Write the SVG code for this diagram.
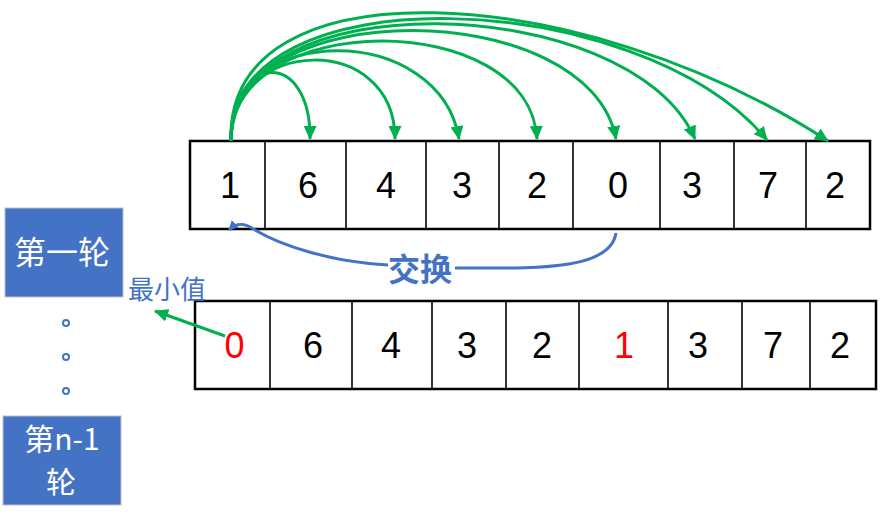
<svg xmlns="http://www.w3.org/2000/svg" width="882" height="516" viewBox="0 0 882 516">
<style>
.num{font-family:"Liberation Sans","DejaVu Sans",sans-serif;font-size:36px;text-anchor:middle;fill:#000}
.red{fill:#FF0000}
.box{fill:#fff;stroke:#000;stroke-width:2.5}
.div{stroke:#000;stroke-width:1.6}
.g{fill:none;stroke:#00B050;stroke-width:3}
.b{fill:none;stroke:#4472C4;stroke-width:3}
.cjk{font-family:"Noto Sans CJK SC","Liberation Sans",sans-serif;text-anchor:middle;dominant-baseline:central}
</style>
<defs>
<marker id="ga" markerWidth="14" markerHeight="13" viewBox="0 0 14 13" refX="13" refY="6.5" orient="auto" markerUnits="userSpaceOnUse"><path d="M0,0 L14,6.5 L0,13 z" fill="#00B050"/></marker>
<marker id="ba" markerWidth="10" markerHeight="10" viewBox="0 0 10 10" refX="9" refY="5" orient="auto" markerUnits="userSpaceOnUse"><path d="M0,0 L10,5 L0,10 z" fill="#4472C4"/></marker>
</defs>
<rect width="882" height="516" fill="#fff"/>

<g id="row1">
<rect class="box" x="190" y="141" width="680" height="88"/>
<line class="div" x1="265" y1="141" x2="265" y2="229"/>
<line class="div" x1="346" y1="141" x2="346" y2="229"/>
<line class="div" x1="426" y1="141" x2="426" y2="229"/>
<line class="div" x1="499" y1="141" x2="499" y2="229"/>
<line class="div" x1="573" y1="141" x2="573" y2="229"/>
<line class="div" x1="660" y1="141" x2="660" y2="229"/>
<line class="div" x1="734" y1="141" x2="734" y2="229"/>
<line class="div" x1="806" y1="141" x2="806" y2="229"/>
<text class="num" x="230" y="198">1</text>
<text class="num" x="308" y="198">6</text>
<text class="num" x="386" y="198">4</text>
<text class="num" x="462" y="198">3</text>
<text class="num" x="537" y="198">2</text>
<text class="num" x="618" y="198">0</text>
<text class="num" x="692" y="198">3</text>
<text class="num" x="768" y="198">7</text>
<text class="num" x="835" y="198">2</text>
</g>

<g id="row2">
<rect class="box" x="195" y="301" width="681" height="88"/>
<line class="div" x1="270" y1="301" x2="270" y2="389"/>
<line class="div" x1="352" y1="301" x2="352" y2="389"/>
<line class="div" x1="432" y1="301" x2="432" y2="389"/>
<line class="div" x1="506" y1="301" x2="506" y2="389"/>
<line class="div" x1="579" y1="301" x2="579" y2="389"/>
<line class="div" x1="668" y1="301" x2="668" y2="389"/>
<line class="div" x1="742" y1="301" x2="742" y2="389"/>
<line class="div" x1="810" y1="301" x2="810" y2="389"/>
<text class="num red" x="234.5" y="358">0</text>
<text class="num" x="313" y="358">6</text>
<text class="num" x="391" y="358">4</text>
<text class="num" x="467" y="358">3</text>
<text class="num" x="542" y="358">2</text>
<text class="num red" x="624" y="358">1</text>
<text class="num" x="698" y="358">3</text>
<text class="num" x="773" y="358">7</text>
<text class="num" x="840" y="358">2</text>
</g>

<g id="round1">
<rect x="5" y="208" width="118" height="89" fill="#4472C4" stroke="#BFBFBF" stroke-width="1"/>
<text class="cjk" x="62" y="250" font-size="32" fill="#fff">第一轮</text>
</g>

<g id="dots" fill="none" stroke="#4472C4" stroke-width="2">
<circle cx="66" cy="323" r="3"/>
<circle cx="66" cy="357" r="3"/>
<circle cx="66" cy="391" r="3"/>
</g>

<g id="roundN">
<rect x="3" y="416" width="118" height="89" fill="#4472C4" stroke="#BFBFBF" stroke-width="1"/>
<text class="cjk" x="62" y="437" font-size="30" fill="#fff">第n-1</text>
<text class="cjk" x="61" y="480" font-size="30" fill="#fff">轮</text>
</g>

<g id="connectors">
<path class="g" marker-end="url(#ga)" d="M231 141 C233 50,311 50,310 139"/>
<path class="g" marker-end="url(#ga)" d="M231 141 C232 35,395 32,395 139"/>
<path class="g" marker-end="url(#ga)" d="M231 141 C230 20,440 22,459 139"/>
<path class="g" marker-end="url(#ga)" d="M231 141 C230 8,530 8,537 139"/>
<path class="g" marker-end="url(#ga)" d="M231 141 C228 -8,590 -4,616 139"/>
<path class="g" marker-end="url(#ga)" d="M231 141 C227 -20,630 -10,695 139"/>
<path class="g" marker-end="url(#ga)" d="M231 141 C226 -30,640 -14,767 140"/>
<path class="g" marker-end="url(#ga)" d="M231 141 C225 -40,580 -20,828 141"/>
<path class="b" d="M616 233 C610 272,530 268,455 268"/>
<path class="b" marker-end="url(#ba)" d="M388 265 C330 262,280 245,255 230 C245 223,237 222,229 230"/>
<path class="g" marker-end="url(#ga)" d="M225 336 L155 311"/>
</g>

<g id="swap">
<text class="cjk" x="420" y="267" font-size="32" font-weight="bold" fill="#4472C4">交换</text>
</g>
<g id="minlabel">
<text class="cjk" x="167" y="287" font-size="26" fill="#4472C4">最小值</text>
</g>
</svg>
